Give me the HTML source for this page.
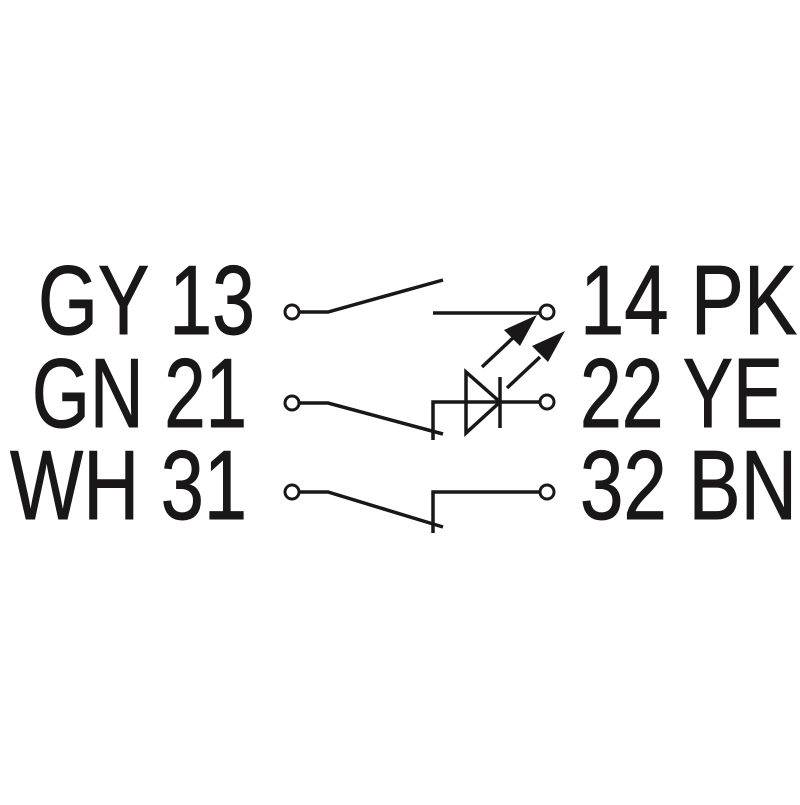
<!DOCTYPE html>
<html><head><style>html,body{margin:0;padding:0;background:#fff}</style></head>
<body>
<svg width="800" height="800" xmlns="http://www.w3.org/2000/svg">
<rect width="800" height="800" fill="#fff"/>
<g font-family="Liberation Sans, Arial, sans-serif" font-size="98" fill="#1a1718" stroke="#1a1718" stroke-width="1">
<text x="38" y="334" textLength="217" lengthAdjust="spacingAndGlyphs">GY 13</text>
<text x="32" y="427" textLength="215" lengthAdjust="spacingAndGlyphs">GN 21</text>
<text x="10" y="519" textLength="237" lengthAdjust="spacingAndGlyphs">WH 31</text>
<text x="580" y="334" textLength="217" lengthAdjust="spacingAndGlyphs">14 PK</text>
<text x="580" y="427" textLength="203" lengthAdjust="spacingAndGlyphs">22 YE</text>
<text x="580" y="519" textLength="217" lengthAdjust="spacingAndGlyphs">32 BN</text>
</g>
<g stroke="#1a1718" stroke-width="3.5" fill="none">
<polyline points="299,312 328,312 443,280"/>
<line x1="433" y1="313" x2="540" y2="313"/>
<polyline points="299,403 328,403 443,434"/>
<polyline points="433,440 433,402 540,402"/>
<polyline points="299,492 328,492 443,527"/>
<polyline points="433,533 433,492 540,492"/>
<line x1="500" y1="377" x2="500" y2="428"/>
<polygon points="466,372 466,433 500,402"/>
<line x1="482" y1="367" x2="515" y2="336"/>
<line x1="507" y1="388" x2="540" y2="357"/>
</g>
<g fill="#1a1718">
<polygon points="537,315 504,330 520,346"/>
<polygon points="565,331 532,346 548,362"/>
</g>
<g stroke="#1a1718" stroke-width="3" fill="#fff">
<circle cx="292" cy="312" r="7"/>
<circle cx="292" cy="403" r="7"/>
<circle cx="292" cy="492" r="7"/>
<circle cx="547" cy="312" r="7"/>
<circle cx="547" cy="402" r="7"/>
<circle cx="547" cy="492" r="7"/>
</g>
</svg>
</body></html>
